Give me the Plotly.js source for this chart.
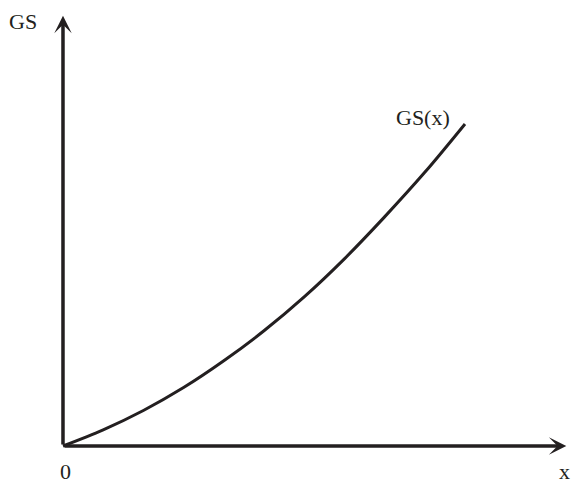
<!DOCTYPE html>
<html>
<head>
<meta charset="utf-8">
<script src="https://cdn.plot.ly/plotly-3.0.1.min.js"></script>
<style>html,body{margin:0;padding:0;background:#fff;}#chart{width:572px;height:483px;}</style>
</head>
<body>
<div id="chart"></div>
<script>
// Data (abstract units)
var xValues = [0, 1, 2, 3, 4, 5, 6, 7, 8, 9, 10];
var gsValues = [0, 0.50, 1.10, 1.81, 2.64, 3.57, 4.62, 5.80, 7.10, 8.48, 9.98];
var curveLabel = "GS(x)";
var yAxisLabel = "GS";
var xAxisLabel = "x";
var originLabel = "0";

var ink = "#231f20";
var serif = "'Liberation Serif', 'Times New Roman', serif";

var trace = {
  x: xValues,
  y: gsValues,
  type: "scatter",
  mode: "lines",
  line: {color: ink, width: 3, shape: "spline", smoothing: 1},
  hoverinfo: "skip"
};

function axisArrow(tipX, tipY) {
  return {
    x: tipX, y: tipY, xref: "x", yref: "y",
    ax: 0, ay: 0, axref: "x", ayref: "y",
    text: "", showarrow: true,
    arrowhead: 3, arrowsize: 0.83, arrowwidth: 3.5, arrowcolor: ink,
    standoff: 0, startstandoff: 0
  };
}
function label(txt, x, y) {
  return {
    x: x, y: y, xref: "x", yref: "y", text: txt, showarrow: false,
    xanchor: "center", yanchor: "middle",
    font: {family: serif, size: 22, color: ink}
  };
}

var layout = {
  width: 572, height: 483,
  margin: {l: 0, r: 0, t: 0, b: 0, pad: 0},
  paper_bgcolor: "#ffffff", plot_bgcolor: "#ffffff",
  showlegend: false,
  xaxis: {range: [-1.567, 12.662], visible: false, fixedrange: true},
  yaxis: {range: [-1.1466, 13.821], visible: false, fixedrange: true},
  annotations: [
    axisArrow(0, 13.33),
    axisArrow(12.52, 0),
    label(yAxisLabel, -0.995, 13.17),
    label(curveLabel, 8.955, 10.195),
    label(originLabel, 0.05, -0.775),
    label(xAxisLabel, 12.48, -0.775)
  ]
};

Plotly.newPlot("chart", [trace], layout, {staticPlot: true, displayModeBar: false});
</script>
</body>
</html>
